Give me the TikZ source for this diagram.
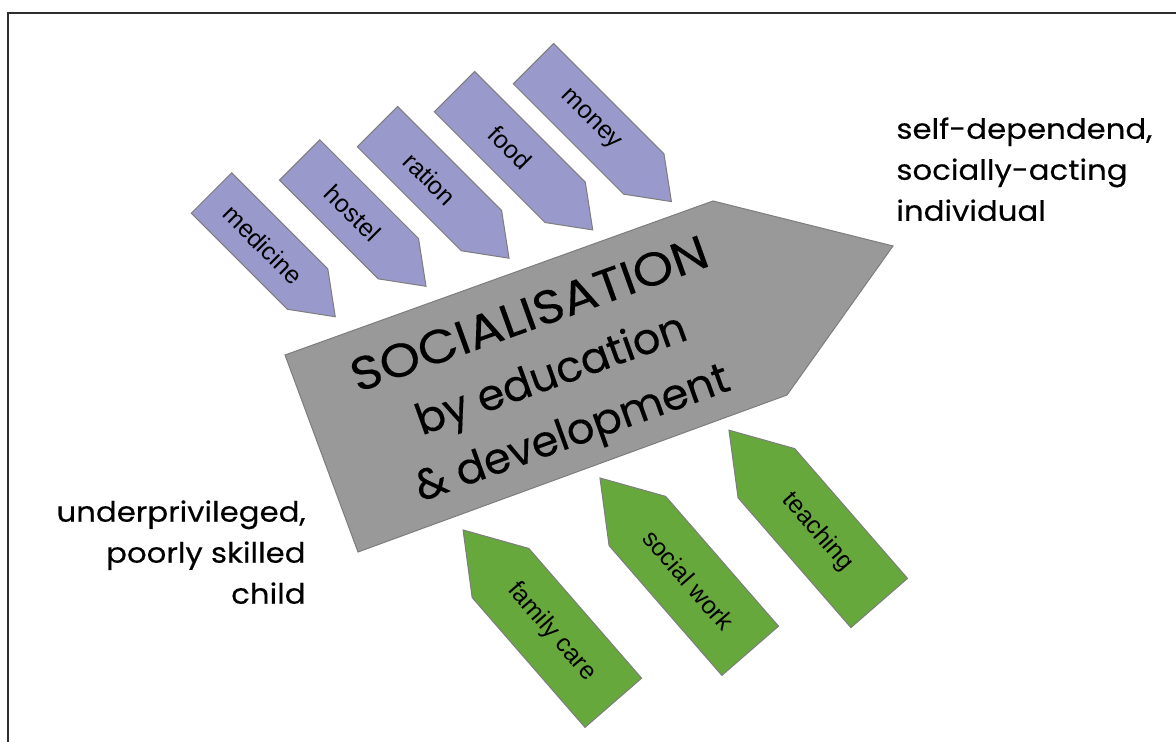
\documentclass[tikz,border=0pt]{standalone}
\usepackage{fontspec}
\setmainfont{Liberation Sans}
\newfontfamily\geofont{Poppins}[FakeStretch=1.1, FakeBold=0.3]
\newfontfamily\geolower{Poppins}[FakeBold=0.3]
\definecolor{purp}{RGB}{153,153,204}
\definecolor{grn}{RGB}{103,168,61}
\definecolor{midgray}{RGB}{153,153,153}
\definecolor{edgecol}{RGB}{125,125,125}
\definecolor{framecol}{RGB}{45,45,45}
% purple arrow: name, (x,y) back-mid, angle, length, text position, label
\newcommand{\inarrow}[6]{%
  \begin{scope}[shift={#2}, rotate=#3]
    \path[purplearrow] (0,-28.5) -- (#4-39,-28.5) -- (#4,0) -- (#4-39,28.5) -- (0,28.5) -- cycle;
    \node[lbl, rotate=#3] (#1) at (#5,0) {#6};
  \end{scope}}
% green arrow: name, (x,y) back-mid, angle, length, text position, label
\newcommand{\uparrowshape}[6]{%
  \begin{scope}[shift={#2}, rotate=#3]
    \path[greenarrow] (0,-37.5) -- (#4-57,-37.5) -- (#4,0) -- (#4-57,37.5) -- (0,37.5) -- cycle;
    \node[lbl, rotate=#3-180] (#1) at (#5,0) {#6};
  \end{scope}}
\begin{document}
\begin{tikzpicture}[x=0.5pt,y=-0.5pt,
  purplearrow/.style={fill=purp, draw=edgecol, line width=0.5pt},
  greenarrow/.style={fill=grn, draw=edgecol, line width=0.5pt},
  bigarrow/.style={fill=midgray, draw=edgecol, line width=0.5pt},
  lbl/.style={font=\fontsize{12.5}{14}\selectfont, inner sep=0pt},
  bigtext/.style={font=\geolower\fontsize{21.5}{31}\selectfont, align=center, inner sep=0pt},
  sidetext/.style={font=\geofont\fontsize{14}{20.5}\selectfont, inner sep=0pt},
  frameline/.style={draw=framecol, line width=1pt}]
\useasboundingbox (0,0) rectangle (1176,742);
\clip (0,0) rectangle (1176,742);
\fill[white] (0,0) rectangle (1176,742);
\draw[frameline] (1200,13) -- (8,13) -- (8,760);

% central arrow
\path[bigarrow] (285,355) -- (713,201) -- (893,246) -- (787,395) -- (358,552) -- cycle;
\node[bigtext, rotate=19.8] (soc) at (552,377) {{\geofont\fontsize{23.5}{31}\selectfont SOCIALISATION}\\by education\\\& development};

% inputs from above
\inarrow{medicine}{(211.5,193)}{-45}{175}{73}{medicine}
\inarrow{hostel}{(299.7,160)}{-45}{178.6}{75}{hostel}
\inarrow{ration}{(377.5,126.7)}{-45}{186}{74}{ration}
\inarrow{food}{(454.5,91.7)}{-45}{195.5}{79}{food}
\inarrow{money}{(533.5,63.7)}{-45}{195}{80}{money}

% inputs from below
\uparrowshape{family}{(613.3,702.8)}{131}{229}{94}{family care}
\uparrowshape{social}{(750.2,650.8)}{131}{229}{94}{social work}
\uparrowshape{teaching}{(879.2,603)}{131}{229}{94}{teaching}

% side labels
\node[sidetext, anchor=north west, align=left] (goal) at (896,117) {self-dependend,\\socially-acting\\individual};
\node[sidetext, anchor=north east, align=right] (start) at (306,500) {underprivileged,\\poorly skilled\\child};
\end{tikzpicture}
\end{document}
